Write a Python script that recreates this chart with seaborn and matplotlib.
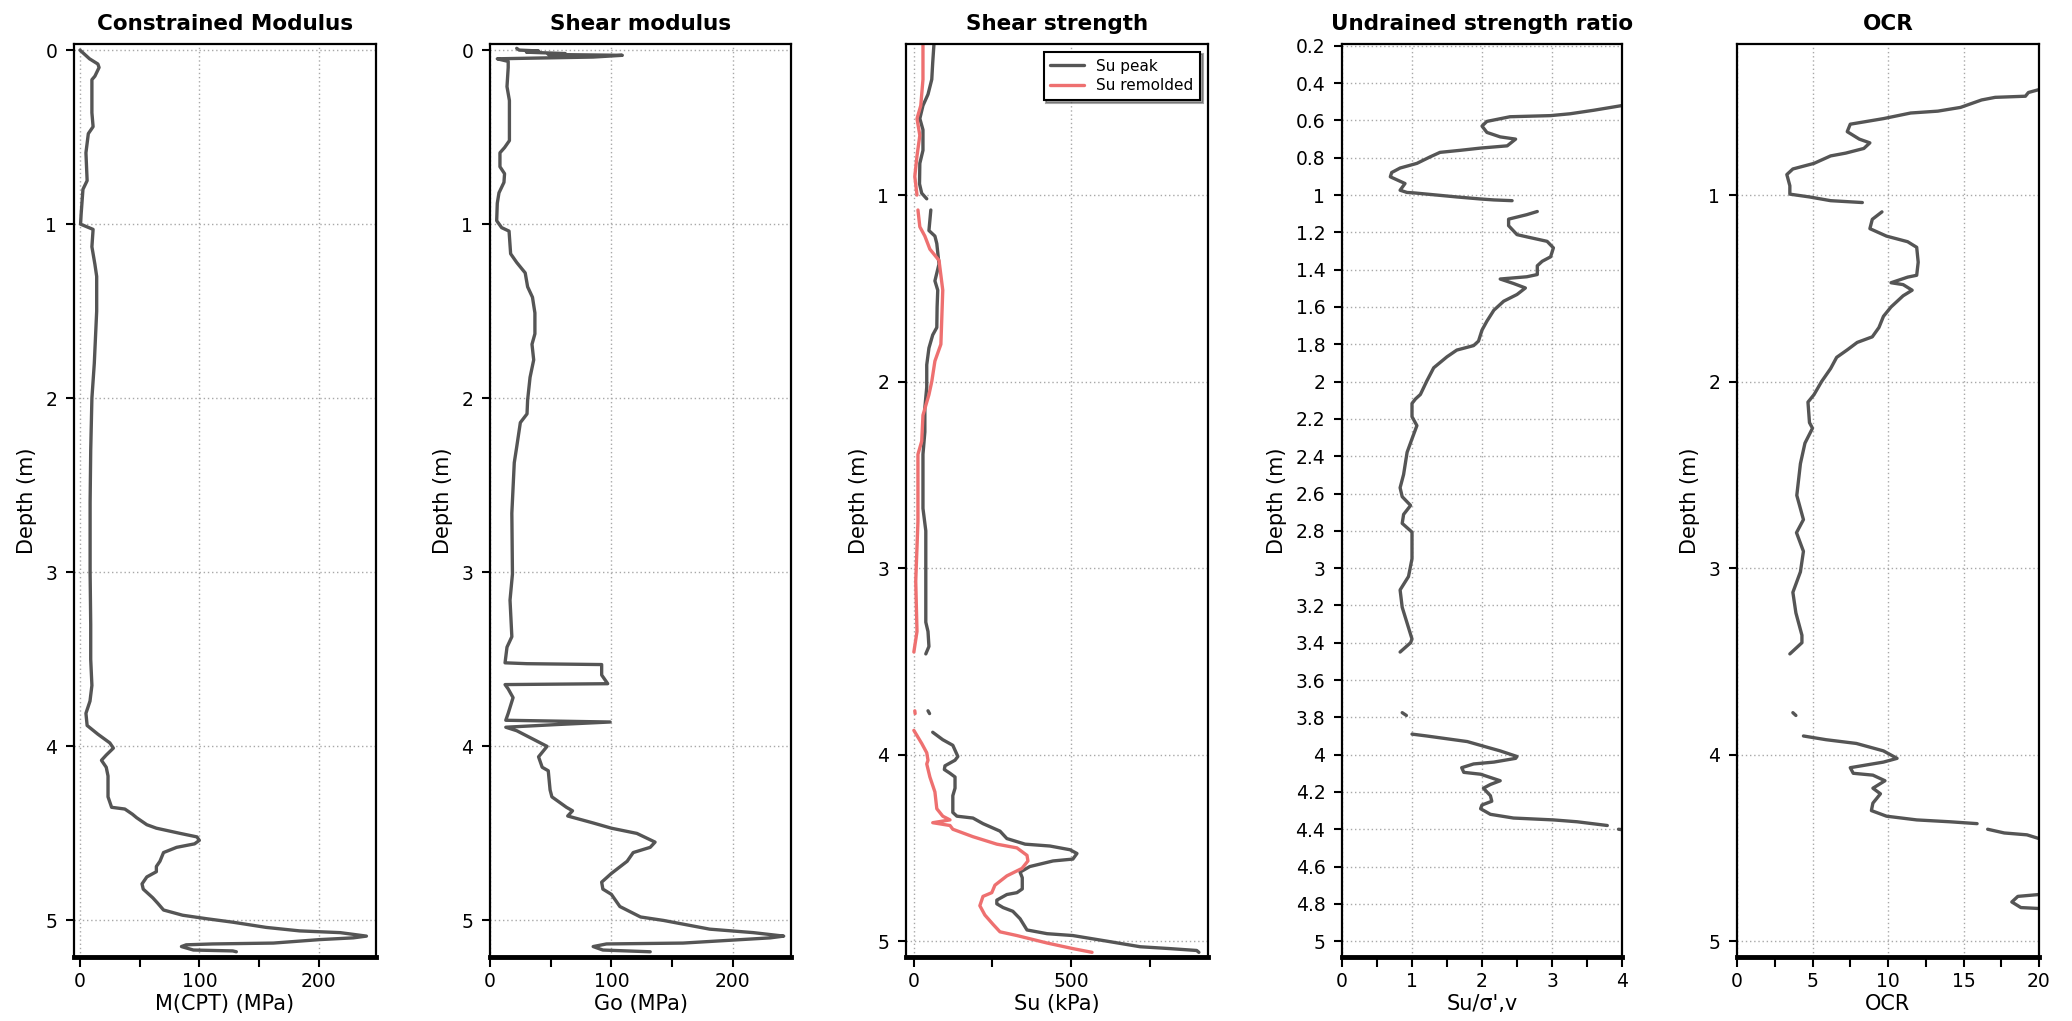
import numpy as np
import pandas as pd
import matplotlib
matplotlib.use("Agg")
import matplotlib.pyplot as plt
import seaborn as sns
from matplotlib.lines import Line2D
from matplotlib.ticker import MultipleLocator, FuncFormatter

sns.set_theme(style="white")
plt.rcParams['font.family'] = ['DejaVu Sans']
plt.rcParams['text.color'] = 'black'
plt.rcParams['axes.labelcolor'] = 'black'
plt.rcParams['xtick.color'] = 'black'
plt.rcParams['ytick.color'] = 'black'

nan = (np.nan, np.nan)

# ---------------- data (depth m, value) ----------------
M_CPT = [(0.00, 0), (0.05, 8), (0.08, 15), (0.10, 16), (0.15, 12.5), (0.17, 10), (0.36, 10), (0.44, 11),
         (0.48, 7), (0.59, 5), (0.75, 6), (0.80, 2.5), (0.94, 1), (1.00, 0.5), (1.03, 11), (1.13, 10),
         (1.23, 12.5), (1.30, 14), (1.50, 14), (1.80, 12), (2.00, 10), (2.30, 9), (2.60, 8.5), (3.00, 8.5),
         (3.30, 9), (3.50, 9), (3.65, 10), (3.74, 8.4), (3.81, 5), (3.88, 6), (3.93, 15), (3.98, 25),
         (4.01, 28), (4.05, 22), (4.08, 18), (4.12, 22), (4.17, 23.5), (4.29, 23.5), (4.35, 26.5),
         (4.36, 37.6), (4.39, 44), (4.41, 47.5), (4.45, 56), (4.47, 64), (4.50, 84), (4.52, 98),
         (4.54, 100), (4.56, 96), (4.58, 81), (4.61, 70), (4.66, 67), (4.69, 64), (4.72, 64), (4.75, 56),
         (4.79, 52), (4.82, 53), (4.87, 61), (4.90, 65), (4.94, 70), (4.97, 86), (4.99, 106), (5.01, 128),
         (5.04, 156), (5.06, 184), (5.07, 218), (5.09, 240), (5.10, 229), (5.11, 201), (5.13, 162),
         (5.135, 111), (5.14, 89), (5.15, 85), (5.17, 95), (5.175, 128), (5.18, 131)]

GO = [(-0.01, 22), (0.0, 24), (0.005, 40), (0.012, 30), (0.02, 62), (0.025, 48), (0.03, 109), (0.04, 85),
      (0.045, 45), (0.05, 6), (0.065, 15), (0.10, 15), (0.21, 14), (0.29, 16), (0.52, 16), (0.56, 12),
      (0.59, 8.2), (0.67, 8.2), (0.71, 12), (0.76, 11.5), (0.82, 7.4), (0.88, 6), (0.98, 5.5), (1.02, 9.6),
      (1.04, 15.7), (1.17, 17), (1.22, 22), (1.28, 29), (1.36, 31), (1.42, 35), (1.51, 37), (1.63, 37),
      (1.69, 34.6), (1.78, 36), (1.88, 33), (2.01, 31), (2.09, 30.5), (2.14, 25), (2.28, 22), (2.37, 20),
      (2.66, 18), (3.01, 18.5), (3.16, 16.5), (3.37, 18), (3.43, 14), (3.52, 12.4), (3.525, 30.5),
      (3.53, 92), (3.59, 92), (3.64, 97), (3.645, 12.4), (3.67, 15), (3.72, 19), (3.81, 15), (3.85, 13),
      (3.86, 99), (3.875, 54), (3.89, 13), (3.91, 22), (3.97, 38.7), (4.00, 47), (4.06, 40), (4.12, 43),
      (4.14, 48), (4.25, 49.5), (4.29, 51), (4.35, 63), (4.37, 68), (4.40, 64), (4.44, 85), (4.47, 100),
      (4.50, 121), (4.55, 136), (4.58, 132), (4.61, 118), (4.66, 113), (4.73, 100), (4.78, 92), (4.82, 93),
      (4.85, 100), (4.92, 107), (4.98, 124), (5.00, 143), (5.05, 181), (5.07, 217), (5.09, 242),
      (5.10, 231), (5.13, 159), (5.135, 96), (5.15, 85), (5.17, 93), (5.18, 132)]

SU_PEAK = [(0.19, 64), (0.29, 60), (0.38, 57), (0.46, 45), (0.52, 29), (0.59, 19), (0.65, 29), (0.76, 29),
           (0.83, 19), (0.94, 18), (0.99, 25), (1.02, 41), nan, (1.08, 54), (1.19, 48), (1.22, 67),
           (1.26, 73), (1.37, 80), (1.46, 67), (1.51, 76), (1.60, 74), (1.71, 73), (1.75, 60), (1.82, 48),
           (1.91, 41), (2.03, 41), (2.14, 35), (2.27, 35), (2.39, 29), (2.68, 29), (2.80, 38), (3.29, 38),
           (3.34, 45), (3.42, 48), (3.46, 38), nan, (3.765, 45), (3.78, 50), nan, (3.88, 60), (3.92, 92),
           (3.95, 124), (4.01, 140), (4.03, 131), (4.06, 99), (4.08, 97), (4.10, 115), (4.12, 131),
           (4.18, 131), (4.22, 124), (4.31, 124), (4.33, 137), (4.34, 188), (4.37, 220), (4.41, 274),
           (4.45, 296), (4.48, 354), (4.49, 433), (4.51, 497), (4.53, 519), (4.56, 506), (4.57, 443),
           (4.60, 369), (4.63, 338), (4.66, 345), (4.72, 345), (4.74, 328), (4.75, 296), (4.78, 264),
           (4.80, 264), (4.82, 284), (4.84, 315), (4.88, 338), (4.94, 360), (4.96, 424), (4.97, 506),
           (5.00, 614), (5.03, 720), (5.04, 815), (5.05, 900), (5.06, 907)]

SU_REMOLDED = [(0.19, 29), (0.38, 29), (0.52, 22), (0.59, 10), (0.68, 19), (0.79, 10), (0.90, 3), (1.00, 10),
               nan, (1.08, 13), (1.17, 19), (1.22, 35), (1.29, 51), (1.35, 80), (1.51, 92), (1.80, 86),
               (1.89, 67), (2.00, 57), (2.07, 48), (2.18, 29), (2.32, 25), (2.39, 13), (2.75, 13), (3.07, 6),
               (3.34, 10), (3.45, 0), nan, (3.765, 3), (3.78, 4), nan, (3.87, 0), (3.94, 25), (3.99, 41),
               (4.03, 45), (4.05, 41), (4.12, 51), (4.20, 67), (4.29, 73), (4.33, 92), (4.35, 115),
               (4.365, 60), (4.38, 115), (4.40, 124), (4.44, 188), (4.48, 264), (4.50, 328), (4.54, 360),
               (4.57, 363), (4.61, 344), (4.65, 296), (4.70, 258), (4.74, 248), (4.76, 220), (4.81, 210),
               (4.86, 226), (4.91, 252), (4.95, 274), (4.97, 328), (5.01, 424), (5.04, 506), (5.06, 567)]

SU_RATIO = [(0.51, 4.05), (0.52, 4.0), (0.545, 3.6), (0.564, 3.26), (0.574, 2.98), (0.58, 2.40), (0.605, 2.07),
            (0.63, 2.0), (0.664, 2.07), (0.688, 2.26), (0.70, 2.48), (0.736, 2.36), (0.748, 1.98), (0.76, 1.69),
            (0.771, 1.40), (0.795, 1.26), (0.83, 1.07), (0.855, 0.83), (0.879, 0.71), (0.902, 0.69),
            (0.926, 0.83), (0.938, 0.90), (0.974, 0.83), (0.986, 0.93), (0.988, 1.02), (1.01, 1.64),
            (1.021, 1.98), (1.026, 2.17), (1.03, 2.43), nan, (1.088, 2.79), (1.105, 2.64), (1.129, 2.38),
            (1.164, 2.38), (1.212, 2.5), (1.224, 2.64), (1.248, 2.93), (1.283, 3.02), (1.331, 2.98),
            (1.355, 2.86), (1.379, 2.79), (1.426, 2.79), (1.438, 2.64), (1.45, 2.26), (1.474, 2.45),
            (1.498, 2.62), (1.533, 2.5), (1.569, 2.31), (1.617, 2.17), (1.676, 2.07), (1.724, 2.0),
            (1.783, 1.95), (1.807, 1.88), (1.831, 1.64), (1.867, 1.50), (1.926, 1.31), (1.998, 1.21),
            (2.069, 1.12), (2.093, 1.05), (2.117, 1.0), (2.188, 1.0), (2.236, 1.07), (2.307, 1.0),
            (2.379, 0.93), (2.498, 0.88), (2.569, 0.83), (2.617, 0.86), (2.664, 0.98), (2.712, 0.88),
            (2.76, 0.86), (2.807, 1.0), (2.95, 1.0), (3.045, 0.95), (3.117, 0.83), (3.21, 0.86), (3.38, 1.0),
            (3.40, 0.98), (3.45, 0.83), nan, (3.775, 0.86), (3.79, 0.92), nan, (3.89, 1.0), (3.90, 1.21),
            (3.93, 1.79), (3.96, 2.07), (3.98, 2.26), (4.01, 2.5), (4.02, 2.48), (4.04, 2.17), (4.05, 1.88),
            (4.07, 1.71), (4.095, 1.74), (4.105, 1.98), (4.14, 2.26), (4.16, 2.12), (4.18, 2.02), (4.22, 2.12),
            (4.25, 2.14), (4.27, 2.0), (4.29, 1.98), (4.32, 2.12), (4.34, 2.45), (4.35, 3.02), (4.36, 3.36),
            (4.38, 3.79), nan, (4.40, 3.95), (4.405, 4.05)]

OCR = [(0.43, 20.2), (0.45, 19.3), (0.47, 19.1), (0.476, 17.1), (0.49, 16.2), (0.51, 15.5), (0.53, 14.8),
       (0.55, 13.3), (0.56, 11.5), (0.59, 9.7), (0.62, 7.5), (0.66, 7.3), (0.70, 8.1), (0.72, 8.8), (0.75, 8.4),
       (0.775, 7.2), (0.79, 6.2), (0.83, 5.1), (0.86, 3.7), (0.89, 3.3), (0.95, 3.5), (0.995, 3.5), (1.01, 4.8),
       (1.03, 6.2), (1.04, 8.3), nan, (1.09, 9.6), (1.13, 8.96), (1.18, 8.8), (1.22, 9.9), (1.25, 11.3),
       (1.28, 11.9), (1.36, 12.0), (1.43, 11.9), (1.44, 11.3), (1.47, 10.2), (1.48, 11.0), (1.51, 11.6),
       (1.54, 11.0), (1.60, 10.2), (1.65, 9.7), (1.71, 9.4), (1.76, 8.96), (1.79, 7.96), (1.83, 7.3),
       (1.87, 6.6), (1.93, 6.2), (2.00, 5.6), (2.07, 5.1), (2.11, 4.7), (2.22, 4.8), (2.25, 5.0), (2.33, 4.5),
       (2.44, 4.2), (2.61, 3.96), (2.74, 4.4), (2.81, 3.94), (2.91, 4.4), (3.02, 4.2), (3.13, 3.7), (3.24, 3.9),
       (3.36, 4.3), (3.40, 4.3), (3.46, 3.5), nan, (3.775, 3.7), (3.79, 3.9), nan, (3.90, 4.4), (3.92, 5.9),
       (3.94, 7.9), (3.98, 9.7), (4.02, 10.6), (4.04, 9.7), (4.07, 7.5), (4.10, 7.7), (4.11, 9.0), (4.14, 9.8),
       (4.18, 9.0), (4.21, 9.5), (4.26, 9.0), (4.30, 8.9), (4.33, 9.9), (4.35, 11.9), (4.36, 14.1),
       (4.37, 15.9), nan, (4.40, 16.6), (4.42, 17.7), (4.43, 19.2), (4.45, 20.0), (4.46, 21.5), nan,
       (4.74, 21.5), (4.75, 20.0), (4.76, 18.6), (4.79, 18.2), (4.82, 18.8), (4.825, 20.0), (4.83, 21.0)]

TITLES = ["Constrained Modulus", "Shear modulus", "Shear strength", "Undrained strength ratio", "OCR"]
XLABELS = ["M(CPT) (MPa)", "Go (MPa)", "Su (kPa)", "Su/σ',v", "OCR"]
LEGEND_LABELS = ["Su peak", "Su remolded"]

DARK = "#555555"
RED = "#ee7070"


def frame(points):
    arr = np.array(points, dtype=float)
    d, v = arr[:, 0], arr[:, 1]
    seg = np.cumsum(np.isnan(d))
    df = pd.DataFrame({"depth": d, "value": v, "seg": seg}).dropna().reset_index(drop=True)
    return df


W, H = 2072, 1021


def box(l, r, t, b):
    return [l / W, 1 - b / H, (r - l) / W, (b - t) / H]


fig = plt.figure(figsize=(W / 100, H / 100), dpi=100)
boxes = [box(74, 376, 44, 957), box(490, 791, 44, 957), box(906, 1208, 44, 957),
         box(1342, 1622, 44, 957), box(1737, 2039, 44, 957)]
axes = [fig.add_axes(b) for b in boxes]

series = [[(M_CPT, DARK)], [(GO, DARK)], [(SU_PEAK, DARK), (SU_REMOLDED, RED)], [(SU_RATIO, DARK)], [(OCR, DARK)]]
xlims = [(-5, 248), (0, 248), (-25, 936), (0, 4), (0, 20)]
ylims = [(5.21, -0.035), (5.21, -0.035), (5.085, 0.19), (5.085, 0.19), (5.085, 0.19)]
xmaj = [100, 100, 500, 1, 5]
xmin = [50, 50, 250, 0.5, 2.5]
ymaj = [1, 1, 1, 0.2, 1]

fmt = FuncFormatter(lambda v, p: ("%.1f" % v).rstrip("0").rstrip("."))

for i, ax in enumerate(axes):
    for pts, col in series[i]:
        df = frame(pts)
        sns.lineplot(data=df, x="value", y="depth", units="seg", estimator=None, sort=False,
                     color=col, linewidth=2.4, ax=ax, legend=False)
    ax.set_xlim(*xlims[i])
    ax.set_ylim(*ylims[i])
    ax.xaxis.set_major_locator(MultipleLocator(xmaj[i]))
    ax.xaxis.set_minor_locator(MultipleLocator(xmin[i]))
    ax.yaxis.set_major_locator(MultipleLocator(ymaj[i]))
    ax.yaxis.set_major_formatter(fmt)
    ax.xaxis.set_major_formatter(fmt)
    ax.grid(True, which="major", color="#a8a8a8", linestyle=(0, (1, 2)), linewidth=1.0)
    ax.set_axisbelow(True)
    ax.tick_params(axis="x", which="both", bottom=True, top=False, direction="out", length=7,
                   width=1.5, color="black", labelsize=13.5, pad=4)
    ax.tick_params(axis="y", which="both", left=True, right=False, direction="out", length=6,
                   width=1.5, color="black", labelsize=13.5, pad=6)
    for s in ["left", "top", "right"]:
        ax.spines[s].set_color("black")
        ax.spines[s].set_linewidth(1.6)
    ax.spines["bottom"].set_color("black")
    ax.spines["bottom"].set_linewidth(3.5)
    ax.set_title(TITLES[i], fontsize=15.5, fontweight="bold", pad=10)
    ax.set_xlabel(XLABELS[i], fontsize=15, labelpad=2)
    ax.set_ylabel("Depth (m)", fontsize=15, labelpad=6)

handles = [Line2D([], [], color=DARK, lw=2.4), Line2D([], [], color=RED, lw=2.4)]
leg = axes[2].legend(handles, LEGEND_LABELS, loc="upper right", fontsize=11, frameon=True,
                     fancybox=False, shadow=True, borderaxespad=0.5, handlelength=2.2,
                     borderpad=0.45, labelspacing=0.3)
leg.get_frame().set_edgecolor("black")
leg.get_frame().set_linewidth(1.5)

fig.savefig("out.png", dpi=100, facecolor="white")
